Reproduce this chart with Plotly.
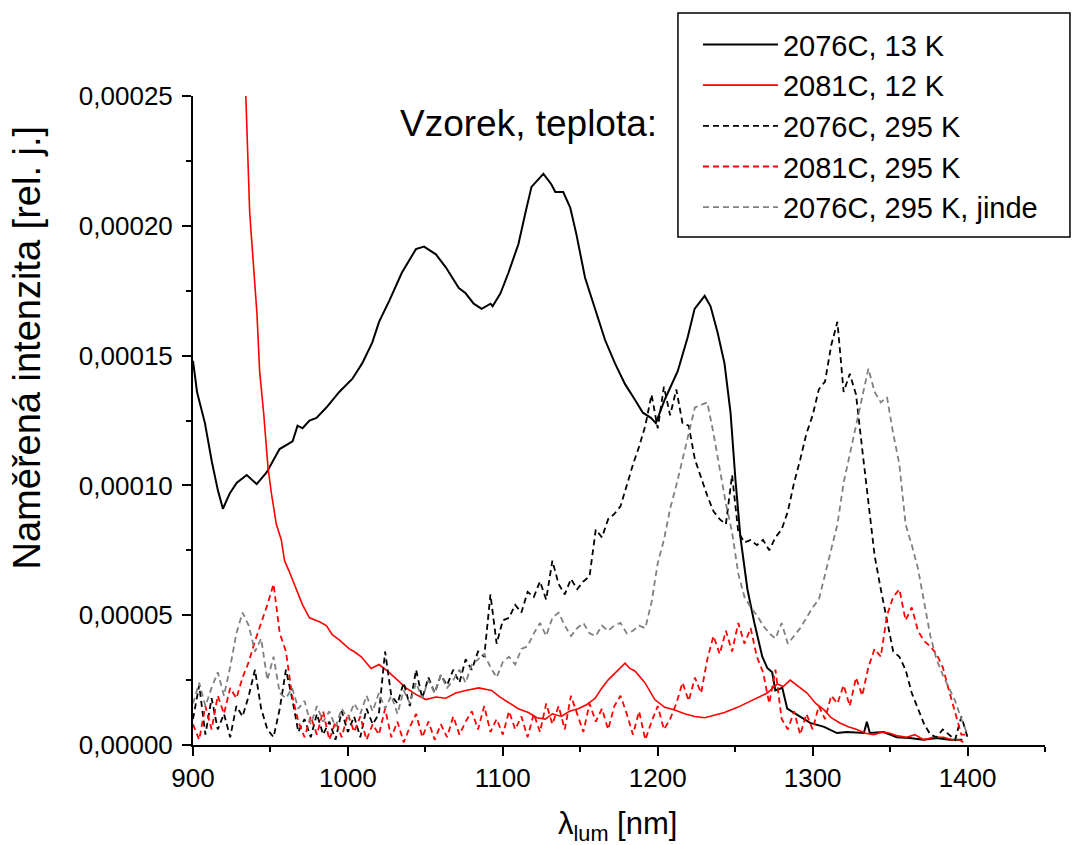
import plotly.graph_objects as go

SCALE = 1e-5  # values below are in units of 1e-5

# 2076C, 13 K (solid black)
wl_2076_13 = [900.0, 902.6, 907.7, 912.2, 916.1, 919.3, 923.8, 928.3, 934.7, 941.1, 947.5, 955.9,
              964.3, 967.5, 970.7, 975.2, 979.7, 986.1, 994.4, 1002.8, 1009.2, 1015.7, 1020.1,
              1026.6, 1034.9, 1043.9, 1049.1, 1056.8, 1063.2, 1071.6, 1076.0, 1081.2, 1086.3,
              1092.1, 1093.4, 1098.5, 1103.7, 1110.1, 1114.6, 1118.5, 1126.2, 1131.3, 1133.9,
              1139.0, 1143.5, 1147.4, 1153.1, 1159.6, 1166.0, 1172.4, 1178.9, 1185.3, 1190.4,
              1195.6, 1198.8, 1204.5, 1212.9, 1219.3, 1223.8, 1230.3, 1234.1, 1238.6, 1243.1,
              1247.0, 1250.2, 1253.4, 1257.9, 1262.4, 1267.5, 1270.7, 1273.9, 1275.9, 1280.4,
              1283.6, 1290.0, 1298.4, 1307.4, 1315.7, 1322.1, 1333.1, 1335.0, 1336.9, 1345.9,
              1354.3, 1362.6, 1371.6, 1380.0, 1388.3, 1396.7]
int_2076_13 = [14.8, 13.6, 12.4, 10.9, 9.8, 9.1, 9.7, 10.1, 10.4, 10.05, 10.5, 11.4,
               11.7, 12.3, 12.2, 12.5, 12.6, 13.0, 13.6, 14.1, 14.7, 15.5, 16.3,
               17.1, 18.2, 19.1, 19.2, 18.9, 18.4, 17.6, 17.4, 17.0, 16.8,
               17.0, 16.9, 17.4, 18.2, 19.3, 20.5, 21.5, 22.0, 21.6, 21.3,
               21.3, 20.7, 19.7, 18.0, 16.8, 15.6, 14.7, 13.9, 13.3, 12.8,
               12.6, 12.4, 13.3, 14.4, 15.7, 16.8, 17.3, 16.9, 15.9, 14.7,
               12.8, 10.2, 8.0, 6.0, 4.7, 3.4, 2.97, 2.8, 2.1, 2.2,
               1.4, 1.15, 0.85, 0.7, 0.46, 0.5, 0.46, 0.9, 0.46, 0.5,
               0.3, 0.27, 0.2, 0.27, 0.2, 0.2]

# 2081C, 12 K (solid red)
wl_2081_12 = [915.0, 925.0, 930.0, 934.1, 936.6, 941.3, 943.0, 945.6, 948.4, 950.6, 953.8, 957.0,
              959.1, 962.0, 965.5, 968.0, 970.7, 975.2, 981.6, 986.1, 989.9, 994.4, 1000.9,
              1004.0, 1008.6, 1015.0, 1020.1, 1026.6, 1033.0, 1037.5, 1043.9, 1050.3, 1056.8,
              1063.2, 1069.6, 1076.0, 1084.4, 1092.8, 1098.0, 1103.7, 1110.0, 1116.5, 1122.0,
              1127.4, 1132.0, 1137.7, 1143.0, 1148.6, 1154.0, 1159.6, 1164.0, 1167.9, 1173.0,
              1178.9, 1182.0, 1185.3, 1191.7, 1198.1, 1204.5, 1211.0, 1217.4, 1224.0, 1230.3,
              1237.0, 1243.1, 1251.5, 1257.0, 1262.4, 1270.7, 1277.2, 1281.0, 1285.5, 1290.0,
              1296.4, 1302.0, 1307.4, 1312.0, 1317.6, 1323.0, 1328.6, 1334.0, 1339.5, 1345.0,
              1349.8, 1355.0, 1360.7, 1366.0, 1371.6, 1378.0, 1384.5, 1390.0, 1394.7, 1397.3]
int_2081_12 = [70.0, 42.0, 32.0, 25.0, 20.5, 16.6, 14.4, 12.8, 10.7, 9.7, 8.5, 7.9,
               7.1, 6.7, 6.2, 5.8, 5.4, 4.9, 4.75, 4.6, 4.25, 4.05, 3.7,
               3.6, 3.4, 2.95, 3.1, 2.8, 2.45, 2.2, 1.95, 1.75, 1.85,
               1.8, 2.0, 2.1, 2.2, 2.1, 1.85, 1.65, 1.4, 1.25, 1.05,
               1.0, 1.2, 1.1, 1.3, 1.4, 1.55, 1.8, 2.2, 2.5, 2.8,
               3.15, 2.95, 2.85, 2.4, 1.75, 1.45, 1.35, 1.2, 1.1, 1.05,
               1.15, 1.25, 1.45, 1.6, 1.75, 2.0, 2.35, 2.25, 2.5, 2.3,
               2.0, 1.6, 1.35, 1.05, 0.85, 0.7, 0.6, 0.45, 0.4, 0.5,
               0.45, 0.35, 0.3, 0.4, 0.2, 0.3, 0.3, 0.2, 0.2, 0.1]

# 295 K series sampled every 4 nm from 900 nm
WL0, WL_STEP = 900, 4
int_2076_295 = [1.0, 2.3, 0.4, 1.8, 0.6, 1.2, 0.3, 1.5, 1.1, 1.9, 2.9, 1.4,
                0.6, 0.3, 1.4, 2.9, 1.8, 0.5, 1.0, 0.3, 1.2, 0.4, 0.9, 0.2,
                1.3, 0.5, 1.1, 0.3, 1.4, 0.8, 1.2, 3.6, 1.9, 1.6, 2.4, 1.5,
                2.9, 1.8, 2.6, 2.0, 2.7, 2.3, 2.9, 2.4, 3.3, 2.9, 3.6, 3.4,
                5.8, 3.9, 4.8, 4.9, 5.4, 5.1, 5.9, 5.7, 6.3, 5.6, 7.1, 6.2,
                5.8, 6.4, 6.0, 6.3, 6.5, 8.3, 8.0, 8.7, 8.9, 9.2, 10.0, 10.8,
                11.5, 12.3, 13.5, 12.2, 13.8, 12.7, 13.7, 12.4, 12.3, 11.0, 10.3, 9.6,
                9.0, 8.7, 8.5, 10.4, 8.2, 7.8, 7.9, 7.7, 7.9, 7.5, 8.0, 8.3,
                9.0, 10.1, 11.0, 12.0, 12.7, 13.7, 14.0, 15.4, 16.3, 13.6, 14.3, 13.5,
                11.4, 9.3, 7.3, 6.0, 4.8, 3.6, 3.4, 2.9, 2.0, 1.4, 0.8, 0.4,
                0.3, 0.6, 0.4, 0.2, 1.1, 0.3]
int_2081_295 = [0.8, 0.2, 1.5, 0.6, 1.9, 1.2, 2.2, 1.8, 2.6, 3.2, 4.0, 4.7,
                5.4, 6.2, 4.3, 3.6, 1.9, 0.9, 0.3, 1.1, 0.4, 1.3, 0.2, 0.9,
                0.3, 1.2, 0.5, 1.1, 0.2, 0.8, 0.4, 1.4, 0.3, 0.9, 0.1, 0.7,
                1.2, 0.3, 0.9, 0.2, 0.8, 0.3, 1.1, 0.4, 0.9, 1.3, 0.6, 1.5,
                0.5, 1.0, 0.4, 1.3, 0.6, 1.1, 0.3, 1.2, 0.5, 1.6, 0.8, 1.5,
                0.6, 1.9, 1.2, 0.5, 1.6, 0.9, 1.4, 0.6, 1.5, 1.9, 1.2, 0.4,
                1.3, 0.2, 0.9, 1.5, 0.6, 1.0, 1.6, 2.4, 1.7, 2.6, 2.0, 3.3,
                4.2, 3.5, 4.4, 3.6, 4.7, 3.9, 4.5, 3.4, 2.8, 1.6, 2.9, 1.0,
                0.6, 1.3, 0.4, 1.2, 0.6, 1.5, 1.0, 1.9, 1.6, 2.3, 1.5, 2.6,
                1.9, 3.0, 3.7, 3.4, 5.0, 5.7, 6.0, 4.8, 5.3, 4.4, 4.0, 3.8,
                3.5, 3.0, 2.1, 1.2, 0.4, 0.4]
int_2076_295_jinde = [1.6, 2.4, 1.5, 2.2, 2.8, 1.9, 3.0, 4.3, 5.1, 4.6, 3.6, 4.1,
                      2.5, 3.4, 2.0, 1.8, 2.2, 1.4, 1.7, 0.8, 1.5, 0.9, 1.3, 0.7,
                      1.4, 1.0, 1.6, 1.2, 1.9, 1.3, 2.0, 1.4, 1.9, 1.2, 2.1, 1.6,
                      2.4, 1.8, 2.5, 2.0, 2.7, 2.2, 2.5, 2.9, 2.4, 3.1, 3.3, 3.5,
                      3.0, 2.6, 3.2, 3.4, 3.1, 3.7, 3.8, 4.3, 4.7, 4.2, 4.9, 5.1,
                      4.6, 4.2, 4.5, 4.7, 4.3, 4.2, 4.6, 4.4, 4.6, 4.7, 4.3, 4.4,
                      4.6, 4.5, 5.5, 7.0, 7.9, 9.1, 10.0, 11.0, 11.9, 13.0, 13.1, 13.2,
                      12.0, 10.6, 9.3, 8.2, 6.6, 5.7, 5.3, 5.0, 4.6, 4.3, 4.1, 4.7,
                      3.9, 4.2, 4.5, 4.9, 5.3, 5.6, 6.6, 7.5, 8.5, 10.1, 11.2, 12.3,
                      13.4, 14.5, 13.6, 13.2, 13.4, 12.0, 10.8, 8.5, 7.7, 6.8, 5.5, 4.2,
                      3.3, 2.7, 2.2, 1.7, 1.0, 0.4]

series = [
    ("2076C, 13 K", wl_2076_13, int_2076_13, "#000000", "solid", 2.0),
    ("2081C, 12 K", wl_2081_12, int_2081_12, "#ff0000", "solid", 1.6),
    ("2076C, 295 K", None, int_2076_295, "#000000", "6px,4px", 1.8),
    ("2081C, 295 K", None, int_2081_295, "#ff0000", "6px,4px", 1.8),
    ("2076C, 295 K, jinde", None, int_2076_295_jinde, "#808080", "6px,4px", 1.8),
]

FONT = "Liberation Sans, Arial, sans-serif"
fig = go.Figure()
for name, wl, vals, color, dash, width in series:
    if wl is None:
        wl = [WL0 + WL_STEP * i for i in range(len(vals))]
    fig.add_trace(go.Scatter(
        x=wl, y=[v * SCALE for v in vals], mode="lines", name=name,
        line=dict(color=color, dash=dash, width=width),
    ))

fig.update_layout(
    width=1073, height=845,
    margin=dict(l=193, r=28, t=96, b=100),
    plot_bgcolor="white", paper_bgcolor="white",
    separators=", ",
    font=dict(family=FONT, size=26, color="black"),
    showlegend=True,
    legend=dict(
        x=0.5927, y=1.1186, xanchor="left", yanchor="top",
        borderwidth=0, bgcolor="rgba(0,0,0,0)",
        font=dict(family=FONT, size=29, color="black"),
        itemwidth=75, tracegroupgap=0,
    ),
    xaxis=dict(
        range=[900, 1450], tick0=900, dtick=100, showgrid=False, zeroline=False,
        showline=True, linecolor="black", linewidth=2,
        ticks="outside", ticklen=9, tickwidth=2, tickcolor="black",
        minor=dict(dtick=50, ticks="outside", ticklen=5, tickwidth=2, tickcolor="black"),
        tickfont=dict(size=26),
    ),
    yaxis=dict(
        range=[0, 0.00025], tick0=0, dtick=0.00005, tickformat=".5f",
        showgrid=False, zeroline=False,
        showline=True, linecolor="black", linewidth=2,
        ticks="outside", ticklen=9, tickwidth=2, tickcolor="black",
        minor=dict(dtick=0.000025, ticks="outside", ticklen=5, tickwidth=2, tickcolor="black"),
        tickfont=dict(size=26), ticklabelstandoff=4,
    ),
    shapes=[dict(
        type="rect", xref="paper", yref="paper",
        x0=0.5692, x1=1.0293, y0=0.7827, y1=1.1279,
        line=dict(color="black", width=1.5), fillcolor="rgba(0,0,0,0)", layer="above",
    )],
    annotations=[
        dict(text="Vzorek, teplota:", xref="paper", yref="paper", x=0.5475, y=0.957,
             xanchor="right", yanchor="middle", showarrow=False,
             font=dict(family=FONT, size=37, color="black")),
        dict(text="Naměřená intenzita [rel. j.]", xref="paper", yref="paper",
             x=-0.1937, y=0.6125, xanchor="center", yanchor="middle", textangle=-90,
             showarrow=False, font=dict(family=FONT, size=38, color="black")),
        dict(text="λ<sub>lum</sub> [nm]", xref="paper", yref="paper",
             x=0.4977, y=-0.125, xanchor="center", yanchor="middle",
             showarrow=False, font=dict(family=FONT, size=31, color="black")),
    ],
)

fig.write_html("out.html")
